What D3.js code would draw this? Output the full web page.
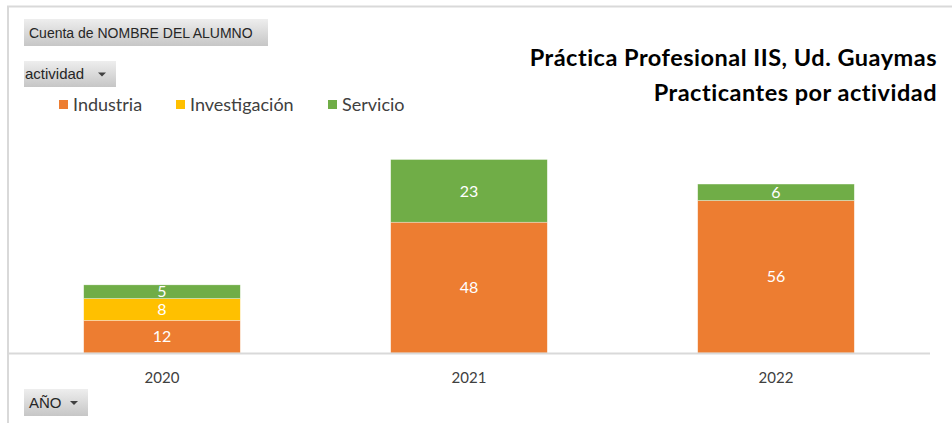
<!DOCTYPE html>
<html>
  <head>
    <meta charset="utf-8">
    <title>Practicantes por actividad</title>
    <script src="https://d3js.org/d3.v7.min.js"></script>
    <style>
      body { margin: 0; background: #fff; }
      svg { display: block; font-family: Lato, "Open Sans", sans-serif; }
    </style>
  </head>

  <body>
    <div class="chart"></div>

    <script>
      // data
      const years = ["2020", "2021", "2022"];
      const activities = ["Industria", "Investigación", "Servicio"];
      const industria = [12, 48, 56];
      const investigacion = [8, 0, 0];
      const servicio = [5, 23, 6];
      const colors = ["#ED7D31", "#FFC000", "#70AD47"];
      const titleLines = ["Práctica Profesional IIS, Ud. Guaymas", "Practicantes por actividad"];

      const rows = years.map((y, i) => ({
        year: y,
        "Industria": industria[i],
        "Investigación": investigacion[i],
        "Servicio": servicio[i]
      }));

      const W = 952, H = 423;
      const svg = d3.select("div.chart").append("svg")
        .attr("width", W)
        .attr("height", H);

      // chart frame (top and left edges show)
      svg.append("path")
        .attr("d", "M8,423 V6.5 H952")
        .attr("fill", "none")
        .attr("stroke", "#d9d9d9")
        .attr("stroke-width", 2);

      const x = d3.scaleBand()
        .domain(years)
        .range([8.5, 929.5])
        .paddingInner(0.49)
        .paddingOuter(0.245);

      const y = d3.scaleLinear()
        .domain([0, 80])
        .range([353, 135]);

      const color = d3.scaleOrdinal().domain(activities).range(colors);

      const stacked = d3.stack().keys(activities)(rows);

      const layers = svg.selectAll("g.layer")
        .data(stacked)
        .enter().append("g")
        .attr("class", "layer")
        .attr("fill", d => color(d.key));

      layers.selectAll("rect")
        .data(d => d.filter(s => s[1] > s[0]))
        .enter().append("rect")
        .attr("x", d => x(d.data.year))
        .attr("y", d => y(d[1]))
        .attr("width", x.bandwidth())
        .attr("height", d => y(d[0]) - y(d[1]))
        .attr("stroke", "#fff")
        .attr("stroke-opacity", 0.5)
        .attr("stroke-width", 0.6);

      layers.selectAll("text")
        .data(d => d.filter(s => s[1] > s[0]))
        .enter().append("text")
        .attr("x", d => x(d.data.year) + x.bandwidth() / 2)
        .attr("y", d => (y(d[0]) + y(d[1])) / 2)
        .attr("dy", "0.36em")
        .attr("text-anchor", "middle")
        .attr("fill", "#fff")
        .attr("font-size", 16)
        .text(d => d[1] - d[0]);

      // x axis
      const xAxis = svg.append("g")
        .attr("transform", "translate(0,353)")
        .call(d3.axisBottom(x).tickSize(0).tickPadding(19));
      xAxis.select(".domain")
        .attr("stroke", "#d9d9d9")
        .attr("stroke-width", 2);
      xAxis.selectAll("text")
        .attr("font-family", "Lato, sans-serif")
        .attr("font-size", 15)
        .attr("fill", "#404040");

      // title
      svg.append("text")
        .attr("x", 937)
        .attr("y", 66)
        .attr("text-anchor", "end")
        .attr("font-size", 23.5)
        .attr("letter-spacing", 0.5)
        .attr("font-weight", "bold")
        .attr("fill", "#000")
        .selectAll("tspan")
        .data(titleLines)
        .enter().append("tspan")
        .attr("x", 937)
        .attr("dy", (d, i) => i ? 35 : 0)
        .text(d => d);

      // legend
      const legendX = [59, 176, 328];
      const legend = svg.selectAll("g.legend")
        .data(activities)
        .enter().append("g")
        .attr("class", "legend")
        .attr("transform", (d, i) => "translate(" + legendX[i] + ",100)");
      legend.append("rect")
        .attr("width", 9)
        .attr("height", 9)
        .attr("fill", d => color(d));
      legend.append("text")
        .attr("x", 14)
        .attr("y", 10.5)
        .attr("font-size", 18)
        .attr("fill", "#404040")
        .text(d => d);

      // pivot field buttons
      const grad = svg.append("defs").append("linearGradient")
        .attr("id", "btn")
        .attr("x1", 0).attr("y1", 0).attr("x2", 0).attr("y2", 1);
      grad.append("stop").attr("offset", "0%").attr("stop-color", "#eeeeee");
      grad.append("stop").attr("offset", "100%").attr("stop-color", "#c6c6c6");

      const buttons = [
        {label: "Cuenta de NOMBRE DEL ALUMNO", x: 24, y: 19, w: 244, h: 27, tx: 5, arrow: false},
        {label: "actividad", x: 24, y: 61, w: 92, h: 26, tx: 1, arrow: true},
        {label: "AÑO", x: 24, y: 389, w: 64, h: 27, tx: 5, arrow: true}
      ];

      const btn = svg.selectAll("g.btn")
        .data(buttons)
        .enter().append("g")
        .attr("class", "btn")
        .attr("transform", d => "translate(" + d.x + "," + d.y + ")");
      btn.append("rect")
        .attr("width", d => d.w)
        .attr("height", d => d.h)
        .attr("fill", "url(#btn)");
      btn.append("text")
        .attr("x", d => d.tx)
        .attr("y", d => d.h / 2)
        .attr("dy", "0.36em")
        .attr("font-family", "'Liberation Sans Narrow', sans-serif")
        .attr("font-size", d => d.arrow ? 15 : 14)
        .attr("fill", "#262626")
        .text(d => d.label);
      btn.filter(d => d.arrow).append("path")
        .attr("d", d => "M" + (d.w - 18) + "," + (d.h / 2 - 1.5) + " h8 l-4,4 z")
        .attr("fill", "#404040");
    </script>

  </body>
</html>
